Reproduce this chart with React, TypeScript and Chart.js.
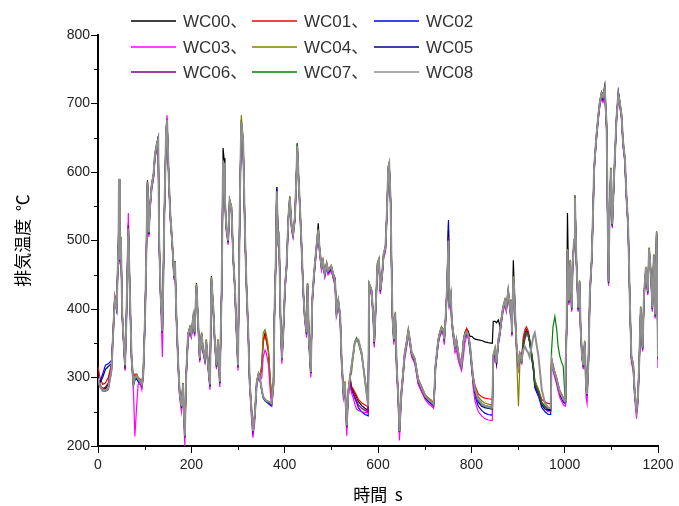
import React, { useEffect, useRef } from "react";
import { Chart, registerables } from "chart.js";
Chart.register(...registerables);

// time axis (s)
const TIME = [
  0,4,10,16,22,29,33,36,40,44, 45,47,49,52,54,58,61,65,69,72, 76,79,83,86,90,94,97,101,104,106, 109,111,115,119,122,126,129,131,134,138, 142,146,148,152,155,159,163,165,168,172,
  175,179,182,186,189,193,197,200,204,207, 211,214,218,222,225,229,232,236,240,243, 247,250,254,257,261,265,268,270,272,275, 279,282,286,290,293,297,300,304,307,311, 315,318,322,325,329,332,336,340,344,347,
  351,354,358,361,365,368,372,376,378,381, 383,386,388,391,394,397,401,404,408,411, 415,418,422,425,427,430,433,436,440,443, 447,449,452,456,459,463,468,472,475,479, 482,486,490,493,500,504,508,511,515,519, 522,526,529,533,536,540,543,547,550,554, 558,565,572,579,
  581,586,590,592,595,599,602,605,609,612, 616,619,622,624,627,629,631,634,637,640, 643,646,650,653,657,661,665,668,672,679, 686,694,701,708,715,719,721,723,729,732, 736,740,742,745,748,751,753,756,758,761, 765,768,772,775,779,783,786,790,793,797, 801,804,808,815,822,829,836,845,
  847,851,854,858,861,865,868,872,875,879, 883,885,887,890,892,895,897,901,904,908, 911,915,918,922,925,929,933,936,944,951, 958,965,970,972,975,979,983,986,990,994, 997,1001,1002,1004,1006,1009,1012,1015,1017,1020,
  1022,1025,1029,1032,1034,1037,1040,1043,1046,1048, 1051,1054,1058,1061,1063,1066,1068,1072,1075,1079, 1082,1086,1090,1092,1094,1096,1099,1102,1106,1111, 1115,1118,1122,1125,1129,1132,1136,1140,1143,1147, 1150,1154,1157,1160,1163,1167,1170,1174,1178,1181, 1185,1188,1191,1194,1197,1200,
];

const WC00 = [
  300,290,283,284,290,316,375,418,400,500, 588,470,505,390,365,316,392,520,403,326, 292,302,300,296,296,292,306,394,500,588, 510,545,583,598,627,642,651,500,423,365, 535,661,678,583,535,496,447,470,389,316,
  277,258,292,212,307,365,374,365,389,365, 438,389,326,365,340,326,355,316,287,448, 403,355,316,355,292,432,635,620,560,520, 500,560,550,471,435,365,316,560,676,646, 510,438,365,292,250,219,243,292,306,300,
  316,355,365,355,340,306,267,290,389,474, 578,500,505,389,326,365,438,462,535,564, 520,510,535,593,642,588,545,496,423,389, 365,438,355,306,413,452,491,525,486,462, 471,452,467,457,462,452,445,394,413,389, 326,277,292,228,277,300,286,281,277,271, 265,259,255,252,
  438,428,389,350,403,467,472,428,452,481, 491,540,608,613,559,467,389,355,394,316, 277,219,277,300,335,350,370,355,335,326, 296,283,272,267,263,260,282,316,355,365, 374,370,355,389,433,525,413,423,384,365, 345,355,335,326,316,355,365,370,368,360, 360,358,356,355,354,352,351,350,
  382,382,380,384,375,389,403,413,403,428, 403,413,365,471,428,374,345,316,335,326, 350,365,370,365,355,335,316,292,280,263, 258,253,253,326,316,306,296,287,277,272, 267,265,316,365,540,413,471,403,462,500,
  566,474,402,440,375,333,318,352,285,275, 325,425,474,547,606,635,654,683,702,717, 712,727,668,540,440,535,606,523,596,679, 717,704,683,645,620,571,523,402,328,318, 279,250,270,328,402,343,420,460,425,489, 450,402,479,392,512,328,
];

const WC01 = [
  316,300,290,292,300,320,378,420,405,505, 585,475,500,395,368,320,395,525,408,330, 295,305,305,300,298,293,308,395,495,582, 515,548,578,594,622,638,645,505,428,372, 528,656,672,588,540,500,450,465,392,320,
  280,262,288,225,300,360,370,362,386,368, 432,392,330,362,344,330,352,320,292,442, 400,358,320,352,296,428,612,608,562,522, 502,555,545,474,438,368,320,555,668,642, 512,440,368,296,255,226,248,295,306,302,
  314,352,362,352,338,305,268,292,390,470, 568,502,503,392,330,367,434,460,532,560, 522,512,532,590,635,590,547,498,426,392, 368,434,358,310,410,450,488,512,488,464, 468,454,464,458,460,448,438,397,410,392, 328,280,290,233,280,302,287,283,279,274, 268,263,260,257,
  432,426,392,354,400,464,470,430,450,478, 488,538,604,610,556,468,392,358,392,318, 280,225,280,302,332,348,366,358,338,328, 298,286,275,270,266,263,280,314,352,362, 370,366,358,386,430,505,415,420,386,368, 348,356,338,328,320,352,365,372,366,345, 318,302,288,276,272,270,269,268,
  330,340,325,354,364,386,400,410,400,424, 400,410,368,444,430,376,348,320,336,330, 358,370,374,368,356,338,318,295,282,268, 264,262,262,328,318,308,299,290,280,275, 270,268,318,368,482,410,468,404,460,498,
  560,476,404,438,378,336,320,350,288,278, 328,422,472,544,602,632,650,680,698,712, 708,720,664,542,442,532,602,526,594,676, 712,700,680,643,618,568,520,404,332,320, 282,254,272,330,400,346,418,458,428,486, 452,404,476,394,508,332,
];

const WC02 = [
  296,294,305,318,320,325,370,412,398,495, 585,468,498,388,362,314,386,512,400,325, 288,296,298,294,290,286,300,388,495,582, 508,542,576,592,620,636,652,498,420,364, 528,655,670,582,532,494,445,465,386,314,
  274,255,286,218,302,358,368,360,385,362, 430,386,325,360,338,325,350,314,286,440, 398,352,314,350,290,425,610,606,556,516, 496,552,544,468,432,362,314,552,665,640, 505,432,362,290,250,225,242,290,302,298,
  280,270,266,264,262,260,258,288,386,470, 578,498,502,388,325,362,432,458,530,558, 516,506,530,588,632,584,540,492,420,386, 362,432,352,305,408,448,486,512,482,458, 466,448,462,452,458,446,436,392,408,386, 322,274,288,226,274,296,282,276,270,264, 256,250,246,244,
  430,424,386,348,398,462,468,424,448,476, 486,536,602,608,554,462,386,352,390,312, 274,220,274,296,330,346,364,352,332,322, 292,280,270,265,261,258,280,312,350,360, 368,364,352,384,428,530,408,418,380,362, 342,350,332,322,314,346,358,362,360,340, 310,290,272,258,252,248,246,245,
  320,335,320,350,362,385,398,408,398,422, 398,408,362,442,424,370,342,314,330,324, 348,362,366,362,350,330,310,285,272,256, 250,246,246,322,312,302,292,283,274,268, 264,262,312,362,480,408,466,398,458,496,
  558,470,398,436,372,330,314,348,282,272, 322,420,470,542,600,630,648,678,696,710, 704,716,660,536,436,530,600,520,592,674, 717,700,678,640,616,566,518,398,326,314, 276,248,266,324,398,340,416,456,422,484, 446,398,474,388,508,326,
];

const WC03 = [
  294,286,280,280,282,308,368,410,398,494, 582,465,498,385,360,310,395,540,398,322, 280,214,260,290,292,282,300,385,490,578, 505,540,574,590,618,634,642,495,418,330, 525,662,683,580,530,492,442,462,385,310,
  270,250,280,200,298,355,365,358,382,360, 428,384,322,358,336,322,348,312,282,440, 396,350,312,348,286,425,608,604,554,512, 494,550,540,466,430,358,310,550,670,638, 502,430,358,286,240,212,236,286,300,296,
  300,330,340,335,320,290,257,282,382,466, 566,494,498,384,320,358,430,456,528,556, 514,504,528,586,630,582,538,490,418,384, 358,430,348,300,404,446,484,510,480,456, 464,446,460,450,456,444,434,388,406,384, 318,270,282,215,268,292,278,270,262,254, 252,250,249,248,
  428,420,384,344,396,460,466,422,446,474, 484,534,600,606,552,460,384,348,386,308, 268,208,268,292,326,342,362,350,330,320, 290,278,268,262,258,255,276,310,348,358, 366,362,348,382,426,495,404,414,378,358, 336,340,325,318,310,330,350,360,364,350, 320,285,265,250,244,240,238,237,
  318,332,318,348,360,382,396,406,396,420, 396,406,360,440,422,368,340,312,326,320, 342,356,362,360,352,334,312,290,275,260, 254,250,250,320,310,300,290,280,270,265, 260,258,308,360,478,406,464,396,456,494,
  556,468,396,434,370,328,312,346,270,262, 320,418,468,540,598,628,646,676,694,708, 702,714,658,534,434,528,598,518,590,672, 708,696,676,638,614,564,516,396,322,310, 270,240,262,320,396,338,414,454,420,482, 444,396,472,386,505,314,
];

const WC04 = [
  299,289,283,282,285,314,374,416,404,500, 587,474,506,394,368,320,392,520,408,330, 294,302,304,300,297,292,307,394,500,586, 514,547,582,598,627,642,646,504,427,370, 534,662,676,587,539,500,450,470,392,320,
  280,260,292,218,308,364,374,366,390,368, 437,392,330,366,344,330,356,320,292,447, 404,358,320,356,296,432,614,610,562,522, 502,560,550,474,438,368,320,560,683,648, 512,440,368,296,254,224,247,294,307,302,
  320,365,370,362,345,310,270,292,390,474, 574,502,507,392,330,367,438,464,536,564, 522,512,536,594,640,590,547,498,426,392, 368,438,358,310,414,454,492,517,488,464, 472,454,468,458,464,452,442,397,414,392, 328,280,294,232,280,302,305,330,348,356, 350,332,300,262,
  438,430,392,354,404,468,474,430,454,482, 492,542,608,614,560,468,392,358,396,318, 280,224,280,302,336,352,370,358,338,328, 299,286,275,270,266,263,284,318,356,366, 374,370,358,390,434,502,414,424,386,368, 348,357,338,328,320,352,364,368,364,346, 318,300,285,272,266,263,261,260,
  334,344,324,358,368,390,404,414,404,428, 404,414,368,448,430,376,330,258,320,328, 350,362,366,360,352,334,316,296,282,264, 258,256,256,328,318,308,299,290,280,275, 270,267,318,368,488,414,472,404,464,502,
  564,476,404,442,378,336,320,354,288,278, 328,426,476,548,606,636,654,684,702,716, 712,720,668,542,442,536,606,526,598,680, 712,704,684,647,622,572,524,404,332,320, 282,254,272,330,404,346,422,462,428,490, 452,404,480,394,514,332,
];

const WC05 = [
  297,292,300,312,316,320,370,414,400,497, 588,470,500,390,364,316,388,515,402,326, 290,298,300,296,293,288,303,390,496,584, 510,544,578,594,623,638,650,500,422,366, 530,658,674,583,535,496,446,466,388,316,
  276,256,288,216,303,360,370,362,386,364, 433,388,326,362,340,326,352,316,288,443, 400,354,316,352,292,428,613,610,558,518, 498,556,546,470,434,364,316,556,670,643, 508,436,364,292,251,223,244,291,304,299,
  281,271,267,265,263,262,260,289,387,471, 575,499,504,389,327,364,435,460,532,560, 518,508,532,590,636,586,543,494,422,388, 364,435,354,307,410,450,488,514,484,460, 468,450,464,454,460,448,438,394,410,388, 324,276,290,228,276,298,316,335,350,355, 355,336,296,258,
  434,426,388,350,400,464,470,426,450,478, 488,538,604,610,556,464,388,354,392,314, 276,221,276,298,332,348,366,354,334,324, 295,282,271,266,262,259,281,314,352,362, 370,366,354,386,430,515,410,420,382,364, 344,352,334,324,316,348,360,366,362,344, 314,294,278,264,258,256,255,254,
  325,338,321,352,364,386,400,410,400,424, 400,410,364,444,426,372,344,316,332,325, 345,360,366,364,352,332,313,288,276,260, 254,252,252,324,314,304,294,285,276,270, 266,264,314,364,484,410,468,400,460,498,
  560,472,400,438,374,332,316,350,284,274, 324,422,472,544,602,632,650,680,698,712, 706,718,662,538,438,532,602,522,594,676, 716,702,680,642,618,568,520,400,328,316, 278,250,268,326,400,342,418,458,424,486, 448,400,476,390,510,328,
];

const WC06 = [
  298,288,284,286,292,318,376,418,404,502, 586,474,500,395,362,312,390,522,404,326, 290,298,301,297,294,289,304,393,497,584, 512,546,580,597,624,640,648,503,424,366, 530,659,675,584,536,497,447,467,389,317,
  277,257,289,212,304,361,371,363,387,365, 434,389,327,363,341,327,353,317,289,444, 401,355,317,353,293,429,614,611,559,519, 499,557,547,471,435,365,317,557,671,644, 509,437,365,293,251,221,244,291,304,299,
  282,272,268,266,265,264,262,290,388,472, 572,500,505,390,328,365,436,462,534,562, 520,510,534,592,638,588,545,496,424,390, 366,436,356,308,412,452,490,515,486,462, 470,452,466,456,462,450,440,395,412,390, 325,277,291,229,277,299,283,278,273,266, 260,255,252,250,
  435,427,389,351,401,465,471,427,451,479, 489,539,605,611,557,465,389,355,393,315, 277,221,277,299,333,349,367,355,335,325, 296,283,272,267,263,260,281,315,353,363, 371,367,355,387,431,505,411,421,383,365, 345,354,335,325,317,349,361,365,361,347, 318,296,280,266,261,259,258,258,
  331,341,321,355,365,387,401,411,401,425, 401,411,365,445,427,373,345,317,333,325, 346,362,368,364,354,334,314,290,278,262, 257,255,255,325,315,305,296,287,277,272, 267,264,315,365,485,411,469,401,461,499,
  561,473,401,439,375,333,317,351,285,275, 325,423,473,545,603,633,651,681,699,713, 709,721,665,539,439,533,603,523,595,677, 713,701,681,644,619,569,521,401,329,317, 279,251,269,327,401,343,419,459,425,487, 449,401,477,391,511,329,
];

const WC07 = [
  297,287,281,280,283,311,371,414,401,497, 589,471,502,391,365,317,389,517,404,327, 291,299,301,297,294,289,304,391,497,584, 511,544,579,595,624,639,647,501,424,367, 531,659,675,584,536,497,447,467,389,317,
  277,257,289,214,304,361,371,363,387,365, 434,389,327,363,341,327,353,317,289,444, 401,355,317,353,293,429,614,611,559,519, 499,557,547,471,435,365,317,557,671,644, 509,437,365,293,251,221,244,291,304,299,
  281,271,267,265,264,263,261,289,387,471, 571,499,504,389,327,364,435,461,533,561, 519,509,533,591,642,587,544,495,423,389, 365,435,355,307,411,451,489,514,485,461, 469,451,465,455,461,449,439,394,411,389, 325,277,291,229,277,299,314,334,352,358, 352,333,298,260,
  435,427,389,351,401,465,471,427,451,479, 489,539,605,611,557,465,389,355,393,315, 277,221,277,299,333,349,367,355,335,325, 296,283,272,267,263,260,281,315,353,363, 371,367,355,387,431,499,411,421,383,365, 345,354,335,325,317,349,361,365,361,347, 319,297,281,267,261,258,256,255,
  331,341,321,355,365,387,401,411,401,425, 401,411,365,445,427,373,345,317,333,325, 344,360,366,362,352,334,315,291,279,262, 257,255,255,340,374,389,370,345,330,321, 316,268,315,365,485,411,469,401,461,499,
  561,473,401,439,375,333,317,351,285,275, 325,423,473,545,603,633,651,681,699,713, 709,721,665,539,439,533,603,523,595,677, 713,701,681,644,619,569,521,401,329,317, 279,251,269,327,401,343,419,459,425,487, 449,401,477,391,511,329,
];

const WC08 = [
  298,288,282,281,284,312,372,415,402,498, 590,472,503,392,366,318,390,518,405,328, 292,300,302,298,295,290,305,392,498,585, 512,545,580,596,625,640,648,502,425,368, 532,660,676,585,537,498,448,468,390,318,
  278,258,290,215,305,362,372,364,388,366, 435,390,328,364,342,328,354,318,290,445, 402,356,318,354,294,430,615,612,560,520, 500,558,548,472,436,366,318,558,672,645, 510,438,366,294,252,222,245,292,305,300,
  282,272,268,266,265,264,262,290,388,472, 572,500,505,390,328,365,436,462,534,562, 520,510,534,592,638,588,545,496,424,390, 366,436,356,308,412,452,490,515,486,462, 470,452,466,456,462,450,440,395,412,390, 326,278,292,230,278,300,316,335,350,355, 355,335,296,258,
  436,428,390,352,402,466,472,428,452,480, 490,540,606,612,558,466,390,356,394,316, 278,222,278,300,334,350,368,356,336,326, 297,284,273,268,264,261,282,316,354,364, 372,368,356,388,432,500,412,422,384,366, 346,355,336,326,318,350,362,366,362,348, 320,298,282,268,262,259,257,256,
  332,342,322,356,366,388,402,412,402,426, 402,412,366,446,428,374,346,318,334,326, 340,345,340,336,330,345,360,365,330,282, 262,256,255,326,316,306,297,288,278,273, 268,265,316,366,486,412,470,402,462,500,
  562,474,402,440,376,334,318,352,286,276, 326,424,474,546,604,634,652,682,700,714, 710,722,666,540,440,534,604,524,596,678, 714,702,682,645,620,570,522,402,330,318, 280,252,270,328,402,344,420,460,426,488, 450,402,478,392,512,330,
];

const SERIES = [WC00, WC01, WC02, WC03, WC04, WC05, WC06, WC07, WC08];
const SERIES_NAMES = ["WC00", "WC01", "WC02", "WC03", "WC04", "WC05", "WC06", "WC07", "WC08"];
const LEGEND_LABELS = ["WC00、", "WC01、", "WC02", "WC03、", "WC04、", "WC05", "WC06、", "WC07、", "WC08"];
const COLORS = ["#000000", "#ff0000", "#0000ff", "#ff00ff", "#808000", "#000080", "#800080", "#008000", "#909090"];
const WIDTHS = [1.2, 1.2, 1.2, 1.2, 1.2, 1.2, 1.2, 1.2, 2];

const X_TITLE = "時間  s";
const Y_TITLE = "排気温度  ℃";
const X_MIN = 0, X_MAX = 1200, X_STEP = 200;
const Y_MIN = 200, Y_MAX = 800, Y_STEP = 100;
const X_MINOR = [100, 300, 500, 700, 900, 1100];
const Y_MINOR = [250, 350, 450, 550, 650, 750];

const LEGEND_COL_X = [131, 252, 374];
const LEGEND_ROW_Y = [21, 47, 72];

const legendPlugin = {
  id: "gridLegend",
  afterDraw(chart: any) {
    const ctx = chart.ctx;
    ctx.save();
    LEGEND_LABELS.forEach((label, i) => {
      const col = i % 3;
      const row = Math.floor(i / 3);
      const lx = LEGEND_COL_X[col];
      const y = LEGEND_ROW_Y[row];
      ctx.strokeStyle = COLORS[i];
      ctx.lineWidth = 1.5;
      ctx.beginPath();
      ctx.moveTo(lx, y);
      ctx.lineTo(lx + 45, y);
      ctx.stroke();
      ctx.fillStyle = "#333";
      ctx.font = '17px "Liberation Sans", "Noto Sans CJK JP", sans-serif';
      ctx.textBaseline = "middle";
      ctx.textAlign = "left";
      ctx.fillText(label, lx + 52, y + 1);
    });
    ctx.restore();
  },
};

const minorTickPlugin = {
  id: "minorTicks",
  afterDraw(chart: any) {
    const { ctx, chartArea, scales } = chart;
    ctx.save();
    ctx.strokeStyle = "#000";
    ctx.lineWidth = 1;
    ctx.beginPath();
    Y_MINOR.forEach((v) => {
      const py = Math.round(scales.y.getPixelForValue(v)) + 0.5;
      ctx.moveTo(chartArea.left - 4, py);
      ctx.lineTo(chartArea.left, py);
    });
    X_MINOR.forEach((v) => {
      const px = Math.round(scales.x.getPixelForValue(v)) + 0.5;
      ctx.moveTo(px, chartArea.bottom);
      ctx.lineTo(px, chartArea.bottom + 4);
    });
    ctx.stroke();
    ctx.restore();
  },
};

export default function App() {
  const ref = useRef<HTMLCanvasElement | null>(null);

  useEffect(() => {
    document.body.style.margin = "0";
    if (!ref.current) return;
    const datasets = SERIES.map((vals, i) => ({
      label: SERIES_NAMES[i],
      data: TIME.map((t, j) => ({ x: t, y: vals[j] })),
      borderColor: COLORS[i],
      backgroundColor: COLORS[i],
      borderWidth: WIDTHS[i],
      pointRadius: 0,
      tension: 0,
      fill: false,
      order: 8 - i,
    }));
    const tickFont = { family: '"Liberation Sans", Arial, sans-serif', size: 14 };
    const titleFont = { family: '"Noto Sans CJK JP", "Liberation Sans", sans-serif', size: 17 };
    const chart = new Chart(ref.current, {
      type: "line",
      data: { datasets },
      plugins: [legendPlugin, minorTickPlugin],
      options: {
        animation: false,
        responsive: false,
        devicePixelRatio: 1,
        events: [],
        layout: { padding: { left: 0, top: 35, right: 21, bottom: 0 } },
        plugins: { legend: { display: false }, tooltip: { enabled: false } },
        scales: {
          x: {
            type: "linear",
            min: X_MIN,
            max: X_MAX,
            afterFit: (s: any) => { s.height = 60; },
            ticks: { stepSize: X_STEP, color: "#222", font: tickFont, padding: 4, maxRotation: 0, callback: (v: any) => String(v) },
            grid: { drawOnChartArea: false, drawTicks: true, tickLength: 7, color: "#000", lineWidth: 1 },
            border: { display: true, color: "#000", width: 2 },
            title: { display: true, text: X_TITLE, color: "#000", font: titleFont, padding: { top: 0, bottom: 1 } },
          },
          y: {
            type: "linear",
            min: Y_MIN,
            max: Y_MAX,
            afterFit: (s: any) => { s.width = 98; },
            ticks: { stepSize: Y_STEP, color: "#222", font: tickFont, padding: 1, callback: (v: any) => String(v) },
            grid: { drawOnChartArea: false, drawTicks: true, tickLength: 7, color: "#000", lineWidth: 1 },
            border: { display: true, color: "#000", width: 2 },
            title: { display: true, text: Y_TITLE, color: "#000", font: titleFont, padding: { top: 12, bottom: 0 } },
          },
        },
      },
    });
    return () => chart.destroy();
  }, []);

  return (
    <div style={{ position: "absolute", left: 0, top: 0, width: 679, height: 506, background: "#fff" }}>
      <canvas ref={ref} width={679} height={506} style={{ display: "block" }} />
    </div>
  );
}
